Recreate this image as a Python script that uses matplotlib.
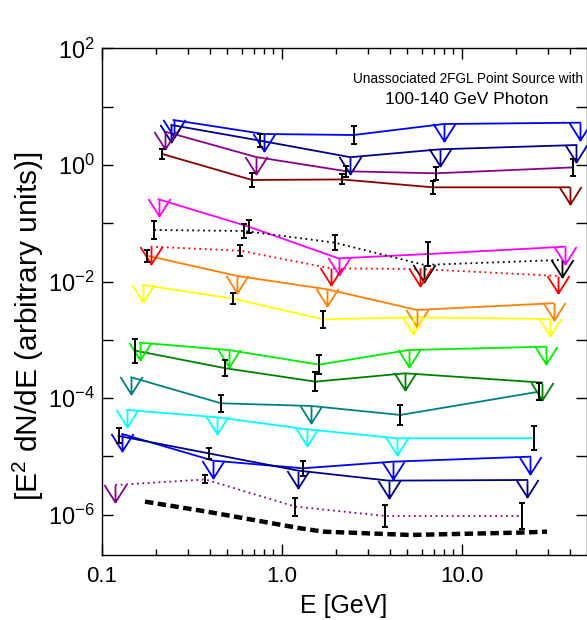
import numpy as np
import matplotlib
matplotlib.use("Agg")
import matplotlib.pyplot as plt
from matplotlib.path import Path
from matplotlib.markers import MarkerStyle

plt.rcParams['font.family'] = ['Liberation Sans', 'DejaVu Sans']
plt.rcParams['mathtext.fontset'] = 'custom'
plt.rcParams['mathtext.rm'] = 'Liberation Sans'
plt.rcParams['axes.unicode_minus'] = False

# ---------------- data ----------------
# energies (GeV), E^2 dN/dE values, upper-limit flags, error half-widths (dex)
blue_top_E = [0.251, 0.794, 2.51, 7.97, 45.6]
blue_top_F = [5.9, 3.4, 3.27, 5.05, 5.32]
blue_top_UL = [1, 1, 0, 1, 1]
blue_top_err = [0, 0, 0.154, 0, 0]

navy_top_E = [0.244, 0.762, 2.41, 7.62, 43.4]
navy_top_F = [4.85, 2.61, 1.36, 1.86, 2.2]
navy_top_UL = [1, 0, 1, 1, 1]
navy_top_err = [0, 0.115, 0, 0, 0]

purple_top_E = [0.226, 0.721, 2.29, 7.23, 41.6]
purple_top_F = [3.72, 1.37, 0.78, 0.72, 0.91]
purple_top_UL = [1, 1, 0, 0, 0]
purple_top_err = [0, 0, 0.09, 0.115, 0.15]

maroon_E = [0.217, 0.685, 2.16, 6.9, 39.8]
maroon_F = [1.545, 0.553, 0.565, 0.414, 0.414]
maroon_UL = [0, 0, 0, 0, 1]
maroon_err = [0.083, 0.115, 0.086, 0.115, 0]

magenta_E = [0.207, 0.656, 2.07, 6.51, 37.7]
magenta_F = [0.258, 0.0875, 0.025, 0.0297, 0.0397]
magenta_UL = [1, 0, 1, 0, 1]
magenta_err = [0, 0.114, 0, 0.206, 0]

blackdot_E = [0.196, 0.621, 1.97, 6.2, 36.1]
blackdot_F = [0.0767, 0.0738, 0.0465, 0.0193, 0.0235]
blackdot_UL = [0, 0, 0, 1, 1]
blackdot_err = [0.149, 0.115, 0.134, 0, 0]

reddot_E = [0.187, 0.589, 1.87, 5.9, 34.1]
reddot_F = [0.0397, 0.0339, 0.0169, 0.0164, 0.0125]
reddot_UL = [1, 0, 1, 1, 1]
reddot_err = [0, 0.1, 0, 0, 0]

orange_E = [0.179, 0.565, 1.79, 5.65, 32.4]
orange_F = [0.0278, 0.0125, 0.00737, 0.00326, 0.00425]
orange_UL = [0, 1, 1, 1, 1]
orange_err = [0.103, 0, 0, 0, 0]

yellow_E = [0.169, 0.537, 1.7, 5.37, 30.8]
yellow_F = [0.00875, 0.0051, 0.00225, 0.00244, 0.00228]
yellow_UL = [1, 0, 0, 1, 1]
yellow_err = [0, 0.091, 0.142, 0, 0]

green_E = [0.163, 0.508, 1.61, 5.08, 29.5]
green_F = [0.000895, 0.00067, 0.000376, 0.00067, 0.000764]
green_UL = [1, 1, 0, 1, 1]
green_err = [0, 0, 0.166, 0, 0]

dkgreen_E = [0.154, 0.487, 1.54, 4.87, 28.0]
dkgreen_F = [0.000653, 0.000326, 0.000192, 0.000267, 0.000185]
dkgreen_UL = [0, 0, 0, 1, 1]
dkgreen_err = [0.206, 0.137, 0.16, 0, 0]

teal_E = [0.146, 0.46, 1.46, 4.57, 26.8]
teal_F = [0.000228, 8.17e-5, 7.35e-5, 5.15e-5, 0.000129]
teal_UL = [1, 0, 1, 0, 0]
teal_err = [0, 0.149, 0, 0.172, 0.149]

cyan_E = [0.138, 0.438, 1.38, 4.38, 25.3]
cyan_F = [6.28e-5, 4.7e-5, 2.92e-5, 2.05e-5, 2.05e-5]
cyan_UL = [1, 1, 1, 1, 0]
cyan_err = [0, 0, 0, 0, 0.206]

blue_low_E = [0.13, 0.416, 1.31, 4.16, 24.1]
blue_low_F = [2.43e-5, 8.47e-6, 6.27e-6, 8.14e-6, 9.93e-6]
blue_low_UL = [1, 1, 0, 1, 1]
blue_low_err = [0, 0, 0.129, 0, 0]

navy_low_E = [0.124, 0.393, 1.24, 3.93, 23.1]
navy_low_F = [2.25e-5, 1.13e-5, 5.71e-6, 3.85e-6, 3.95e-6]
navy_low_UL = [0, 0, 1, 1, 1]
navy_low_err = [0.129, 0.094, 0, 0, 0]

purple_low_E = [0.119, 0.377, 1.19, 3.77, 21.7]
purple_low_F = [3.24e-6, 4.03e-6, 1.38e-6, 9.53e-7, 9.53e-7]
purple_low_UL = [1, 0, 0, 0, 0]
purple_low_err = [0, 0.069, 0.154, 0.189, 0.223]

sens_E = [0.174, 0.385, 1.27, 1.71, 5.19, 20.3, 29.8]
sens_F = [1.68e-6, 1.13e-6, 5.86e-7, 5.13e-7, 4.5e-7, 4.93e-7, 5.13e-7]

xtick_vals = [0.1, 1.0, 10.0]
xtick_labels = ['0.1', '1.0', '10.0']
ytick_exps = [2, 1, 0, -1, -2, -3, -4, -5, -6]

series = [
    (blue_top_E, blue_top_F, blue_top_UL, blue_top_err, '#0000ff', '-'),
    (navy_top_E, navy_top_F, navy_top_UL, navy_top_err, '#000090', '-'),
    (purple_top_E, purple_top_F, purple_top_UL, purple_top_err, '#8b008b', '-'),
    (maroon_E, maroon_F, maroon_UL, maroon_err, '#8b0000', '-'),
    (magenta_E, magenta_F, magenta_UL, magenta_err, '#ff00ff', '-'),
    (blackdot_E, blackdot_F, blackdot_UL, blackdot_err, '#000000', ':'),
    (reddot_E, reddot_F, reddot_UL, reddot_err, '#ff0000', ':'),
    (orange_E, orange_F, orange_UL, orange_err, '#ff8000', '-'),
    (yellow_E, yellow_F, yellow_UL, yellow_err, '#ffff00', '-'),
    (green_E, green_F, green_UL, green_err, '#00ee00', '-'),
    (dkgreen_E, dkgreen_F, dkgreen_UL, dkgreen_err, '#008000', '-'),
    (teal_E, teal_F, teal_UL, teal_err, '#008080', '-'),
    (cyan_E, cyan_F, cyan_UL, cyan_err, '#00ffff', '-'),
    (blue_low_E, blue_low_F, blue_low_UL, blue_low_err, '#0000ff', '-'),
    (navy_low_E, navy_low_F, navy_low_UL, navy_low_err, '#000090', '-'),
    (purple_low_E, purple_low_F, purple_low_UL, purple_low_err, '#8b008b', ':'),
]

# ---------------- figure ----------------
W, H = 587, 620
fig = plt.figure(figsize=(W / 100, H / 100), dpi=100)
ax = fig.add_axes([101.7 / W, 1 - 555 / H, 484.8 / W, (555 - 48.4) / H])
ax.set_xscale('log')
ax.set_yscale('log')
ax.set_xlim(0.1, 49.4)
ax.set_ylim(2.04e-7, 100)

# upper-limit arrow marker: vertical stem + open V head
ul_path = Path([(0, 0), (0, -1), (-0.65, 0.03), (0, -1), (0.65, 0.03)],
               [Path.MOVETO, Path.LINETO, Path.MOVETO, Path.LINETO, Path.LINETO])
ul_marker = MarkerStyle(ul_path, fillstyle='none')

for E, F, UL, err, col, ls in series:
    E = np.array(E); F = np.array(F); UL = np.array(UL, bool); err = np.array(err)
    if ls == ':':
        ax.plot(E, F, color=col, lw=1.3, linestyle=(0, (1, 2.0)), zorder=2)
    else:
        ax.plot(E, F, color=col, lw=1.3, linestyle='-', zorder=2)
    ax.plot(E[UL], F[UL], linestyle='none', marker=ul_marker, ms=24.5,
            mec=col, mfc='none', mew=1.3, zorder=3)
    det = ~UL
    lo = F[det] - F[det] / 10 ** err[det]
    hi = F[det] * 10 ** err[det] - F[det]
    ax.errorbar(E[det], F[det], yerr=[lo, hi], fmt='none', ecolor='black',
                elinewidth=1.4, capsize=2.3, capthick=1.4, zorder=4)

ax.plot(sens_E, sens_F, color='black', lw=3.2, linestyle=(0, (1.9, 1.0)),
        dash_capstyle='butt', zorder=4)

# ticks
ax.set_xticks(xtick_vals)
ax.set_xticklabels(xtick_labels)
ax.xaxis.set_minor_locator(matplotlib.ticker.LogLocator(base=10, subs=np.arange(2, 10)))
ax.xaxis.set_minor_formatter(matplotlib.ticker.NullFormatter())
yt = [10.0 ** e for e in ytick_exps]
ax.set_yticks(yt)
ax.set_yticklabels([r'$\mathdefault{10^{%d}}$' % e if e % 2 == 0 else '' for e in ytick_exps])
ax.yaxis.set_minor_locator(matplotlib.ticker.NullLocator())
ax.tick_params(axis='both', which='major', direction='in', length=8, width=1,
               top=True, right=True, labelsize=16)
ax.tick_params(axis='y', which='major', labelsize=17)
ax.tick_params(axis='x', which='major', pad=8)
ax.tick_params(axis='y', which='major', pad=5)
ax.tick_params(axis='x', which='minor', direction='in', length=4, width=1, top=True)
for s in ax.spines.values():
    s.set_linewidth(1.0)

fig.text(344 / W, 1 - 606 / H, 'E [GeV]', ha='center', va='center', fontsize=18)
fig.text(28 / W, 1 - 326 / H, r'[E$^{\mathdefault{2}}$ dN/dE (arbitrary units)]',
         ha='center', va='center', rotation=90, fontsize=21.5)

fig.text(468 / W, 1 - 79 / H, 'Unassociated 2FGL Point Source with',
         ha='center', va='center', fontsize=9.8)
fig.text(467 / W, 1 - 99 / H, '100-140 GeV Photon',
         ha='center', va='center', fontsize=12.5)

fig.savefig('out.png', dpi=100)
